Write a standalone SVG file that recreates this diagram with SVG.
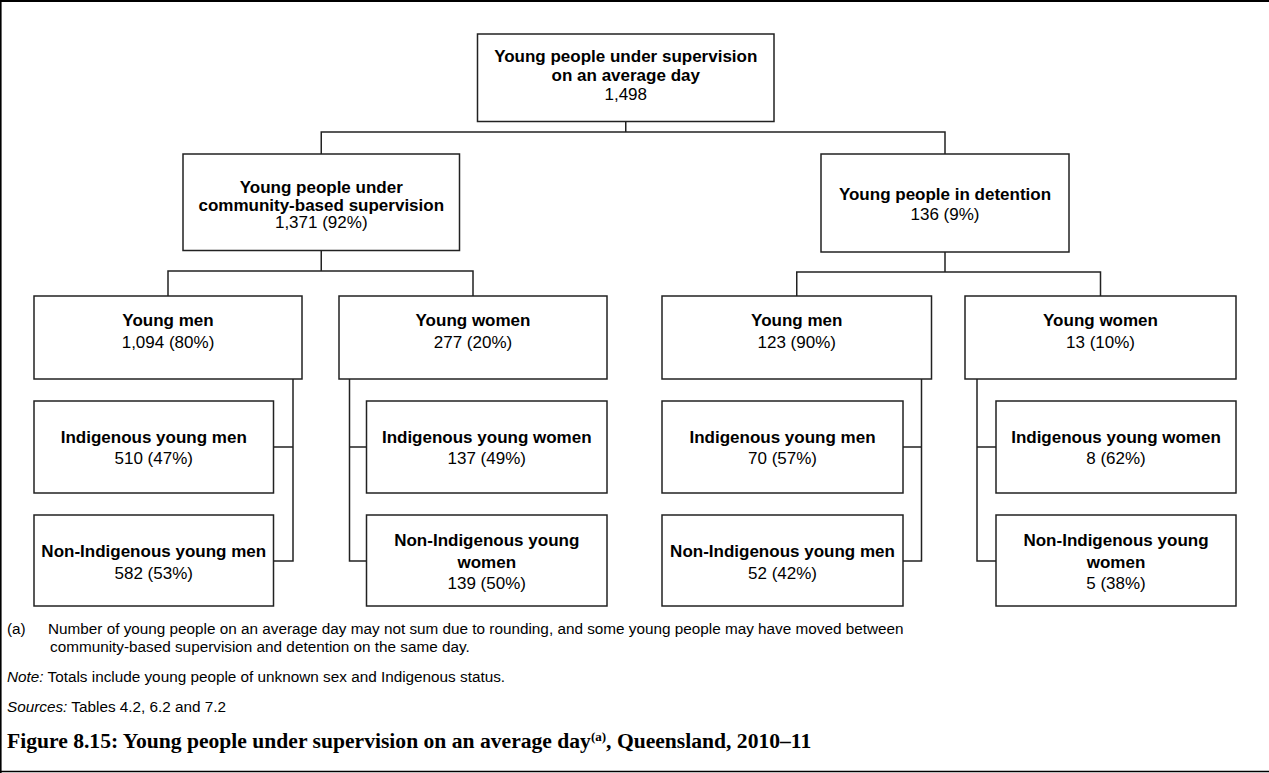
<svg xmlns="http://www.w3.org/2000/svg" width="1269" height="773" viewBox="0 0 1269 773">
<style>
.box{fill:#fff;stroke:#222;stroke-width:1.5}
.t{font-family:"Liberation Sans",Arial,sans-serif;font-size:17px;fill:#000;text-anchor:middle}
.b{font-weight:bold}
.con{fill:none;stroke:#222;stroke-width:1.5}
.fn{font-family:"Liberation Sans",Arial,sans-serif;font-size:15.3px;fill:#000}
.ti{font-family:"Liberation Serif","Times New Roman",serif;font-size:21.6px;font-weight:bold;fill:#000}
</style>
<rect width="1269" height="773" fill="#fff"/>
<g id="frame" stroke="#000" fill="none">
<line x1="0" y1="1" x2="1269" y2="1" stroke-width="2"/>
<line x1="0.8" y1="0" x2="0.8" y2="773" stroke-width="1.6"/>
<line x1="0" y1="771.5" x2="1269" y2="771.5" stroke-width="1.5"/>
</g>
<g id="connectors" class="con">
<path d="M625.75 121.5V132M321.25 154V132H945V154"/>
<path d="M321.25 250.5V271M168 296V271H473V296"/>
<path d="M945 252V272M796.75 296V272H1100.5V296"/>
<path d="M293 379V561H273.5M273.5 447H293"/>
<path d="M349.5 379V561H366.5M366.5 447H349.5"/>
<path d="M921.5 379V561H903M903 447H921.5"/>
<path d="M977 379V561H996M996 447H977"/>
</g>
<g id="n-total"><rect class="box" x="477.5" y="34" width="296.5" height="87.5"/>
<text class="t b" x="625.75" y="62">Young people under supervision</text>
<text class="t b" x="625.75" y="81">on an average day</text>
<text class="t" x="625.75" y="100">1,498</text></g>
<g id="n-community"><rect class="box" x="183" y="154" width="276.5" height="96.5"/>
<text class="t b" x="321.25" y="193">Young people under</text>
<text class="t b" x="321.25" y="210.5">community-based supervision</text>
<text class="t" x="321.25" y="228">1,371 (92%)</text></g>
<g id="n-detention"><rect class="box" x="821" y="154" width="248" height="98"/>
<text class="t b" x="945" y="200">Young people in detention</text>
<text class="t" x="945" y="219.5">136 (9%)</text></g>
<g id="n-cb-men"><rect class="box" x="34" y="296" width="268" height="83"/>
<text class="t b" x="168" y="326">Young men</text>
<text class="t" x="168" y="348">1,094 (80%)</text></g>
<g id="n-cb-women"><rect class="box" x="339" y="296" width="268" height="83"/>
<text class="t b" x="473" y="326">Young women</text>
<text class="t" x="473" y="348">277 (20%)</text></g>
<g id="n-det-men"><rect class="box" x="662" y="296" width="269.5" height="83"/>
<text class="t b" x="796.75" y="326">Young men</text>
<text class="t" x="796.75" y="348">123 (90%)</text></g>
<g id="n-det-women"><rect class="box" x="965" y="296" width="271" height="83"/>
<text class="t b" x="1100.5" y="326">Young women</text>
<text class="t" x="1100.5" y="348">13 (10%)</text></g>
<g id="n-cb-ind-men"><rect class="box" x="34" y="401" width="239.5" height="92"/>
<text class="t b" x="153.75" y="442.5">Indigenous young men</text>
<text class="t" x="153.75" y="464">510 (47%)</text></g>
<g id="n-cb-ind-women"><rect class="box" x="366.5" y="401" width="240.5" height="92"/>
<text class="t b" x="486.75" y="442.5">Indigenous young women</text>
<text class="t" x="486.75" y="464">137 (49%)</text></g>
<g id="n-det-ind-men"><rect class="box" x="662" y="401" width="241" height="92"/>
<text class="t b" x="782.5" y="442.5">Indigenous young men</text>
<text class="t" x="782.5" y="464">70 (57%)</text></g>
<g id="n-det-ind-women"><rect class="box" x="996" y="401" width="240" height="92"/>
<text class="t b" x="1116" y="442.5">Indigenous young women</text>
<text class="t" x="1116" y="464">8 (62%)</text></g>
<g id="n-cb-non-men"><rect class="box" x="34" y="515" width="239.5" height="91"/>
<text class="t b" x="153.75" y="557">Non-Indigenous young men</text>
<text class="t" x="153.75" y="578.5">582 (53%)</text></g>
<g id="n-cb-non-women"><rect class="box" x="366.5" y="515" width="240.5" height="91"/>
<text class="t b" x="486.75" y="546">Non-Indigenous young</text>
<text class="t b" x="486.75" y="567.5">women</text>
<text class="t" x="486.75" y="589">139 (50%)</text></g>
<g id="n-det-non-men"><rect class="box" x="662" y="515" width="241" height="91"/>
<text class="t b" x="782.5" y="557">Non-Indigenous young men</text>
<text class="t" x="782.5" y="578.5">52 (42%)</text></g>
<g id="n-det-non-women"><rect class="box" x="996" y="515" width="240" height="91"/>
<text class="t b" x="1116" y="546">Non-Indigenous young</text>
<text class="t b" x="1116" y="567.5">women</text>
<text class="t" x="1116" y="589">5 (38%)</text></g>
<g id="notes">
<text class="fn" x="7" y="634">(a)</text>
<text class="fn" x="48" y="634">Number of young people on an average day may not sum due to rounding, and some young people may have moved between</text>
<text class="fn" x="50" y="652">community-based supervision and detention on the same day.</text>
<text class="fn" x="7" y="682"><tspan font-style="italic">Note:</tspan> Totals include young people of unknown sex and Indigenous status.</text>
<text class="fn" x="7" y="712"><tspan font-style="italic">Sources:</tspan> Tables 4.2, 6.2 and 7.2</text>
<text class="ti" x="7" y="748">Figure 8.15: Young people under supervision on an average day<tspan font-size="13" dy="-7">(a)</tspan><tspan dy="7">, Queensland, 2010–11</tspan></text>
</g>
</svg>
